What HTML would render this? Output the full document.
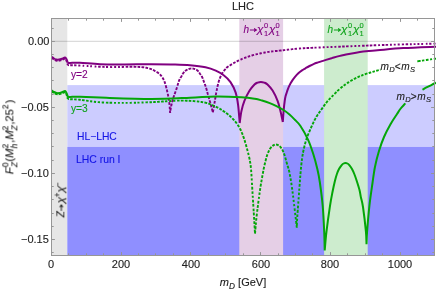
<!DOCTYPE html><html><head><meta charset="utf-8"><title>LHC</title><style>
html,body{margin:0;padding:0;background:#fff;}
body{width:436px;height:291px;position:relative;overflow:hidden;font-family:"Liberation Sans",sans-serif;color:#222;}
.t{will-change:transform;position:absolute;white-space:nowrap;line-height:1;font-size:11px;-webkit-text-stroke:0.12px currentColor;}
.xt{transform:translateX(-50%);top:259px;}
.yt{right:387.0px;transform:translateY(-50%);}
i{font-style:italic;}
.chi{display:inline-block;transform:scaleX(1.18);transform-origin:50% 50%;margin:0 0.45px 0 0.55px;}
.ss{display:inline-block;position:relative;width:0.5em;height:0;vertical-align:baseline;}
.ss sup,.ss sub{position:absolute;left:0;font-size:0.75em;line-height:1;font-style:normal;vertical-align:baseline}
.ss sup{bottom:0.42em}.ss sub{top:-0.38em}
</style></head><body>
<svg width="436" height="291" viewBox="0 0 436 291" style="position:absolute;left:0;top:0">
<rect x="0" y="0" width="436" height="291" fill="#fff"/>
<rect x="51.5" y="18.5" width="15.799999999999997" height="237.0" fill="#e6e6e6"/>
<rect x="67.3" y="85.1" width="367.5" height="61.80000000000001" fill="#ccccff"/>
<rect x="67.3" y="146.9" width="367.5" height="108.6" fill="#8f8fff"/>
<rect x="239.3" y="18.5" width="43.80000000000001" height="237.0" fill="#e5cfe6"/>
<rect x="324.1" y="18.5" width="43.599999999999966" height="237.0" fill="#cdecce"/>
<line x1="51.5" x2="434.5" y1="41.3" y2="41.3" stroke="#000" stroke-opacity="0.2" stroke-width="0.9"/>
<g fill="none" stroke-width="2.0" stroke-linejoin="round">
<path d="M51.50,57.60 L51.53,57.63 L51.65,57.72 L51.79,57.83 L51.95,57.96 L52.13,58.10 L52.32,58.26 L52.52,58.42 L52.74,58.59 L52.95,58.76 L53.17,58.92 L53.39,59.08 L53.60,59.23 L53.81,59.38 M54.81,59.98 L54.88,60.02 L55.06,60.12 L55.25,60.22 L55.44,60.31 L55.62,60.40 L55.81,60.48 L56.00,60.55 L56.19,60.61 L56.38,60.67 L56.56,60.71 L56.75,60.75 L56.93,60.78 L57.11,60.80 L57.29,60.82 L57.48,60.82 L57.54,60.83 M58.66,60.75 L58.73,60.74 L58.93,60.71 L59.14,60.68 L59.35,60.64 L59.57,60.60 L59.79,60.55 L60.02,60.50 L60.25,60.44 L60.48,60.38 L60.71,60.32 L60.94,60.25 L61.17,60.18 L61.40,60.10 M62.46,59.71 L62.54,59.67 L62.77,59.56 L63.01,59.43 L63.25,59.31 L63.49,59.18 L63.72,59.06 L63.95,58.94 L64.17,58.84 L64.37,58.75 L64.56,58.68 L64.74,58.63 L64.90,58.60 L65.04,58.60 L65.12,58.61 M65.88,59.39 L65.91,59.43 L65.98,59.56 L66.05,59.69 L66.12,59.83 L66.19,59.98 L66.26,60.14 L66.33,60.31 L66.40,60.49 L66.46,60.67 L66.53,60.87 L66.59,61.06 L66.66,61.26 L66.72,61.46 L66.79,61.66 L66.86,61.86 L66.92,62.07 L66.97,62.21 M67.33,63.39 L67.36,63.48 L67.43,63.74 L67.50,63.99 L67.57,64.23 L67.64,64.45 L67.70,64.65 L67.75,64.82 L67.79,64.96 L67.80,65.00 M67.80,65.00 L67.83,65.00 L67.92,65.02 L68.02,65.04 L68.13,65.06 L68.25,65.09 L68.39,65.11 L68.54,65.14 L68.70,65.17 L68.87,65.20 L69.06,65.22 M70.22,65.31 L70.27,65.30 L70.38,65.30 L70.44,65.28 L70.49,65.26 L70.55,65.24 L70.65,65.22 L70.82,65.20 L71.10,65.19 L71.50,65.18 L72.06,65.19 L72.81,65.21 M74.16,65.26 L74.57,65.28 L75.97,65.35 L76.51,65.38 M78.31,65.48 L78.97,65.52 L80.36,65.60 M82.61,65.74 L83.40,65.79 L84.21,65.84 M86.71,66.00 L87.57,66.06 L88.44,66.11 M90.19,66.22 L91.08,66.27 L91.97,66.32 M94.63,66.48 L95.52,66.53 L96.40,66.58 M98.13,66.67 L98.99,66.71 L100.66,66.79 M102.28,66.87 L103.07,66.90 L104.58,66.96 M106.00,67.00 L106.69,67.02 L108.06,67.04 M110.11,67.07 L110.79,67.07 L112.15,67.08 M114.16,67.07 L114.82,67.06 L116.13,67.05 M118.06,67.02 L118.69,67.01 L119.93,66.98 M121.74,66.94 L122.33,66.93 L124.05,66.89 M125.68,66.86 L126.21,66.84 L127.72,66.82 L128.20,66.81 M129.57,66.80 L130.00,66.80 L131.21,66.80 L132.30,66.80 M133.58,66.81 L133.87,66.81 L134.69,66.82 L135.44,66.83 L136.12,66.84 L136.34,66.85 M137.55,66.88 L137.73,66.89 L138.29,66.91 L138.85,66.94 L139.41,66.97 L140.00,67.00 L140.20,67.01 M141.46,67.10 L141.63,67.11 L142.11,67.15 L142.56,67.19 L143.00,67.24 L143.42,67.29 L143.83,67.34 L144.23,67.40 M145.44,67.60 L145.58,67.62 L146.00,67.70 L146.43,67.79 L146.87,67.88 L147.31,67.98 L147.75,68.08 L148.04,68.15 M149.33,68.50 L149.47,68.54 L149.88,68.66 L150.28,68.79 L150.66,68.91 L151.03,69.03 L151.39,69.16 L151.72,69.28 L151.92,69.36 M152.97,69.82 L153.05,69.86 L153.28,69.98 L153.51,70.11 L153.74,70.24 L153.98,70.38 L154.24,70.53 L154.50,70.70 L154.79,70.87 L155.11,71.07 L155.44,71.26 M156.55,71.89 L156.67,71.96 L157.07,72.19 L157.46,72.43 L157.86,72.68 L158.26,72.94 L158.65,73.22 L158.91,73.41 M159.89,74.28 L160.00,74.40 L160.34,74.76 L160.67,75.14 L161.00,75.53 L161.33,75.93 L161.65,76.34 M162.48,77.53 L162.58,77.69 L162.88,78.18 L163.17,78.70 L163.46,79.24 L163.74,79.80 L163.83,80.00 M164.36,81.24 L164.45,81.46 L164.70,82.16 L164.95,82.89 L165.19,83.64 L165.27,83.90 M165.66,85.22 L165.73,85.49 L165.95,86.31 L166.17,87.13 L166.38,87.96 L166.45,88.23 M166.78,89.58 L166.85,89.85 L167.04,90.64 L167.22,91.41 L167.40,92.18 M167.75,93.70 L167.80,93.95 L167.97,94.71 L168.12,95.46 L168.27,96.22 L168.32,96.48 M168.60,98.01 L168.65,98.27 L168.78,99.06 L168.90,99.85 L169.02,100.66 M169.21,102.06 L169.25,102.36 L169.35,103.30 L169.44,104.28 L169.50,104.95 M169.65,106.64 L169.67,106.98 L169.75,107.97 L169.82,108.93 L169.84,109.24 M169.94,110.69 L169.96,110.95 L170.01,111.68 L170.06,112.30 L170.10,112.80 M170.10,112.80 L170.11,112.73 L170.15,112.48 L170.19,112.17 L170.22,111.94 M170.42,110.55 L170.44,110.40 L170.51,109.94 L170.58,109.47 L170.65,109.01 L170.72,108.56 L170.79,108.14 L170.86,107.74 L170.88,107.62 M171.12,106.37 L171.13,106.28 L171.19,106.01 L171.25,105.75 L171.31,105.49 L171.37,105.22 L171.44,104.94 L171.51,104.65 L171.59,104.33 L171.67,104.00 L171.77,103.63 L171.80,103.50 M172.13,102.22 L172.17,102.07 L172.29,101.60 L172.42,101.12 L172.55,100.62 L172.69,100.12 L172.83,99.60 L172.92,99.26 M173.28,98.04 L173.33,97.87 L173.49,97.34 L173.66,96.83 L173.83,96.31 L174.00,95.80 L174.19,95.28 M174.63,94.07 L174.70,93.89 L174.90,93.36 L175.10,92.82 L175.30,92.27 L175.51,91.71 L175.65,91.33 M176.13,89.95 L176.20,89.75 L176.41,89.11 L176.62,88.44 L176.84,87.73 L176.99,87.25 M177.43,85.76 L177.51,85.51 L177.73,84.76 L177.95,84.02 L178.18,83.30 L178.25,83.07 M178.68,81.74 L178.75,81.54 L178.96,80.96 L179.17,80.43 L179.37,79.95 L179.58,79.49 L179.78,79.07 M180.39,77.98 L180.46,77.87 L180.65,77.55 L180.84,77.26 L181.02,76.97 L181.19,76.70 L181.35,76.43 L181.50,76.17 L181.65,75.92 L181.77,75.68 L181.87,75.47 L181.91,75.40 M182.43,74.33 L182.46,74.28 L182.55,74.13 L182.65,73.98 L182.76,73.81 L182.89,73.63 L183.02,73.44 L183.16,73.25 L183.31,73.05 L183.46,72.85 L183.62,72.65 L183.79,72.45 L183.96,72.25 L184.13,72.06 L184.25,71.93 M185.07,71.14 L185.13,71.09 L185.33,70.92 L185.54,70.76 L185.75,70.60 L185.96,70.44 L186.18,70.29 L186.40,70.14 L186.63,70.00 L186.86,69.86 L187.10,69.73 L187.34,69.60 L187.50,69.52 M188.53,69.11 L188.62,69.07 L188.90,68.99 L189.18,68.90 L189.47,68.82 L189.76,68.75 L190.05,68.69 L190.35,68.63 L190.64,68.59 L190.94,68.55 L191.23,68.52 L191.32,68.52 M192.47,68.53 L192.57,68.54 L192.86,68.58 L193.15,68.63 L193.44,68.68 L193.73,68.74 L194.02,68.81 L194.30,68.89 L194.57,68.97 L194.84,69.06 L195.10,69.15 L195.18,69.18 M196.22,69.64 L196.29,69.67 L196.48,69.79 L196.67,69.90 L196.86,70.03 L197.03,70.16 L197.21,70.29 L197.38,70.43 L197.55,70.58 L197.72,70.73 L197.89,70.89 L198.06,71.06 L198.22,71.23 L198.38,71.42 L198.49,71.55 M199.19,72.54 L199.24,72.61 L199.38,72.83 L199.53,73.05 L199.67,73.27 L199.81,73.48 L199.95,73.68 L200.09,73.88 L200.24,74.07 L200.37,74.24 L200.51,74.42 L200.65,74.59 L200.78,74.76 L200.92,74.93 M201.58,75.90 L201.62,75.98 L201.76,76.22 L201.89,76.47 L202.01,76.74 L202.13,77.01 L202.25,77.28 L202.37,77.57 L202.49,77.87 L202.61,78.18 L202.73,78.50 L202.81,78.72 M203.25,79.93 L203.30,80.06 L203.45,80.46 L203.61,80.89 L203.78,81.34 L203.96,81.81 L204.15,82.31 L204.27,82.65 M204.74,83.89 L204.80,84.07 L205.00,84.62 L205.20,85.16 L205.40,85.71 L205.59,86.26 L205.71,86.62 M206.11,87.84 L206.16,88.01 L206.31,88.51 L206.45,89.01 L206.59,89.50 L206.73,89.99 L206.86,90.48 L206.94,90.81 M207.25,91.99 L207.30,92.17 L207.44,92.70 L207.58,93.25 L207.74,93.81 L207.90,94.40 L208.01,94.81 M208.44,96.30 L208.51,96.52 L208.70,97.20 L208.90,97.89 L209.10,98.58 L209.24,99.05 M209.58,100.23 L209.64,100.47 L209.85,101.18 L210.05,101.89 L210.24,102.58 L210.37,103.04 M210.76,104.44 L210.83,104.69 L211.03,105.45 L211.24,106.23 L211.45,107.02 L211.52,107.28 M211.86,108.57 L211.93,108.82 L212.12,109.55 L212.30,110.24 L212.47,110.89 L212.63,111.46 M212.92,112.35 L212.95,112.19 L213.05,111.62 L213.16,110.95 L213.29,110.18 L213.43,109.34 M213.68,107.81 L213.74,107.49 L213.90,106.52 L214.07,105.53 L214.12,105.20 M214.40,103.58 L214.45,103.26 L214.61,102.34 L214.75,101.47 L214.85,100.93 M215.07,99.60 L215.11,99.34 L215.24,98.55 L215.37,97.78 L215.50,97.01 L215.54,96.75 M215.80,95.23 L215.84,94.97 L215.97,94.21 L216.11,93.45 L216.25,92.69 L216.30,92.44 M216.60,90.90 L216.65,90.64 L216.81,89.86 L216.98,89.06 L217.14,88.25 M217.43,86.89 L217.48,86.62 L217.66,85.81 L217.84,85.01 L218.02,84.22 L218.08,83.96 M218.40,82.69 L218.47,82.45 L218.66,81.73 L218.86,81.04 L219.07,80.38 L219.28,79.75 M219.73,78.55 L219.80,78.36 L220.03,77.79 L220.27,77.25 L220.51,76.72 L220.75,76.21 L220.91,75.87 M221.47,74.77 L221.55,74.62 L221.79,74.17 L222.02,73.74 L222.25,73.33 L222.48,72.93 L222.71,72.56 L222.94,72.22 M223.70,71.16 L223.78,71.07 L224.01,70.78 L224.24,70.50 L224.48,70.22 L224.71,69.95 L224.95,69.68 L225.20,69.40 L225.43,69.13 L225.57,68.97 M226.37,68.04 L226.43,67.97 L226.64,67.77 L226.87,67.55 L227.14,67.33 L227.45,67.08 L227.80,66.82 L228.22,66.52 L228.53,66.31 M229.64,65.58 L229.85,65.45 L230.51,65.03 L231.21,64.59 L231.95,64.14 M233.26,63.35 L233.53,63.19 L234.37,62.71 L235.22,62.23 L235.50,62.07 M236.66,61.45 L236.96,61.30 L237.83,60.86 L238.71,60.44 L239.00,60.30 M240.47,59.64 L240.77,59.51 L241.68,59.12 L242.60,58.74 M244.17,58.11 L244.49,57.99 L245.45,57.62 L246.44,57.27 M247.76,56.80 L248.10,56.69 L249.12,56.35 L250.15,56.03 M251.55,55.60 L251.90,55.50 L252.97,55.20 L254.07,54.90 M255.57,54.51 L255.95,54.42 L257.10,54.14 L257.88,53.96 M259.44,53.61 L259.83,53.53 L261.01,53.28 L261.80,53.12 M263.38,52.80 L263.78,52.73 L264.96,52.51 L265.74,52.37 M267.30,52.10 L267.69,52.04 L268.84,51.86 L269.60,51.74 M271.13,51.54 L271.51,51.49 L272.65,51.35 L273.41,51.26 M274.94,51.10 L275.32,51.06 L276.47,50.94 L277.63,50.83 M278.80,50.71 L279.20,50.67 L280.38,50.55 L281.58,50.43 M282.80,50.30 L283.21,50.25 L284.41,50.12 L285.20,50.03 M286.77,49.84 L287.17,49.79 L288.34,49.65 L289.14,49.56 M290.74,49.37 L291.15,49.32 L292.40,49.18 L293.26,49.09 M294.59,48.96 L295.04,48.91 L296.44,48.79 L296.93,48.74 M298.94,48.58 L299.46,48.54 L301.10,48.42 M302.83,48.31 L303.43,48.28 L305.26,48.17 M306.52,48.10 L307.16,48.06 L309.11,47.96 M310.44,47.90 L311.11,47.86 L313.14,47.77 M314.51,47.71 L315.19,47.67 L316.56,47.61 M318.62,47.52 L319.31,47.49 L320.67,47.43 M322.70,47.34 L323.37,47.32 L324.69,47.26 M326.65,47.17 L327.29,47.14 L328.59,47.09 M330.53,47.01 L331.17,46.98 L332.47,46.93 M334.40,46.85 L335.05,46.83 L336.34,46.78 M338.27,46.71 L338.92,46.68 L340.85,46.61 M342.14,46.56 L342.79,46.54 L344.72,46.47 M346.01,46.42 L346.65,46.40 L348.58,46.32 M350.51,46.25 L351.16,46.22 L352.44,46.17 M354.37,46.10 L355.02,46.07 L356.30,46.02 M358.23,45.95 L358.87,45.92 L360.16,45.87 M362.08,45.79 L362.72,45.76 L364.65,45.69 M365.93,45.64 L366.58,45.61 L368.50,45.54 M369.79,45.49 L370.43,45.46 L372.36,45.39 M373.64,45.34 L374.28,45.32 L376.21,45.25 M378.14,45.18 L378.78,45.16 L380.04,45.11 M381.92,45.05 L382.54,45.03 L384.40,44.97 M385.63,44.93 L386.25,44.91 L388.10,44.85 M389.96,44.79 L390.59,44.77 L391.85,44.73 M393.76,44.67 L394.40,44.65 L395.70,44.61 M397.70,44.56 L398.37,44.54 L399.74,44.50 M401.85,44.44 L402.57,44.42 L404.05,44.38 M405.62,44.34 L406.44,44.32 L408.14,44.27 M409.92,44.23 L410.83,44.20 L411.76,44.18 M413.63,44.13 L414.58,44.11 L415.54,44.09 M417.45,44.04 L418.41,44.02 L419.37,44.00 M421.26,43.95 L422.20,43.93 L423.13,43.91 M425.83,43.84 L426.70,43.82 L427.55,43.80 M429.18,43.76 L429.96,43.74 L431.44,43.71 M433.43,43.66 L434.02,43.65 L435.57,43.61" stroke="#800080" stroke-width="1.9"/>
<path d="M51.50,91.20 L51.53,91.22 L51.65,91.31 L51.79,91.42 L51.95,91.54 L52.13,91.68 L52.32,91.82 L52.52,91.98 L52.74,92.14 L52.95,92.30 L53.17,92.45 L53.39,92.61 L53.60,92.75 L53.81,92.88 L53.87,92.92 M54.88,93.48 L54.94,93.51 L55.13,93.60 L55.31,93.68 L55.50,93.77 L55.69,93.84 L55.88,93.91 L56.06,93.98 L56.25,94.03 L56.44,94.08 L56.62,94.13 L56.81,94.17 L56.99,94.20 L57.17,94.23 L57.36,94.25 L57.54,94.26 L57.60,94.27 M58.73,94.23 L58.80,94.23 L59.00,94.20 L59.21,94.17 L59.42,94.12 L59.64,94.07 L59.87,94.01 L60.09,93.94 L60.32,93.87 L60.55,93.80 L60.78,93.72 L61.01,93.64 L61.25,93.56 L61.47,93.48 M62.54,93.09 L62.62,93.06 L62.85,92.95 L63.09,92.85 L63.33,92.74 L63.57,92.63 L63.80,92.53 L64.02,92.44 L64.24,92.36 L64.44,92.29 L64.62,92.24 L64.80,92.21 L64.95,92.20 L65.08,92.21 L65.20,92.23 L65.24,92.24 M65.95,93.11 L65.98,93.16 L66.05,93.29 L66.12,93.45 L66.19,93.61 L66.26,93.79 L66.33,93.97 L66.40,94.17 L66.46,94.37 L66.53,94.58 L66.59,94.79 L66.66,95.01 L66.72,95.22 L66.79,95.44 L66.86,95.66 L66.92,95.87 L66.97,96.02 M67.30,97.15 L67.33,97.24 L67.41,97.51 L67.48,97.77 L67.55,98.02 L67.62,98.26 L67.68,98.47 L67.73,98.66 L67.78,98.81 L67.80,98.90 M67.80,98.90 L67.83,98.90 L67.90,98.92 L67.96,98.93 L68.01,98.95 L68.07,98.96 L68.15,98.98 L68.24,99.01 L68.36,99.03 L68.51,99.05 L68.70,99.08 L68.93,99.11 M70.15,99.21 L70.31,99.22 L70.81,99.25 L71.34,99.27 L71.91,99.29 L72.53,99.31 L72.74,99.32 M74.13,99.37 L74.39,99.38 L75.17,99.42 L76.02,99.47 L76.61,99.51 M78.22,99.63 L78.56,99.66 L79.63,99.76 L80.77,99.88 M81.99,100.03 L82.41,100.09 L83.73,100.27 L84.64,100.40 M86.06,100.61 L86.55,100.68 L88.04,100.90 L88.55,100.98 M90.10,101.20 L90.63,101.27 L92.23,101.49 M93.86,101.70 L94.41,101.76 L96.08,101.95 M97.75,102.12 L98.31,102.17 L100.00,102.30 M101.71,102.41 L102.29,102.44 L104.06,102.53 M105.88,102.61 L106.49,102.64 L108.34,102.70 M109.59,102.74 L110.22,102.76 L112.12,102.80 M114.05,102.84 L114.69,102.84 L115.98,102.86 M117.92,102.88 L118.56,102.89 L119.86,102.89 M121.79,102.90 L122.44,102.90 L123.72,102.90 M125.64,102.90 L126.29,102.89 L127.62,102.88 M129.67,102.85 L130.36,102.84 L131.76,102.82 M133.88,102.77 L134.58,102.75 L136.00,102.71 M137.41,102.67 L138.11,102.65 L139.51,102.61 M141.56,102.54 L142.23,102.52 L143.55,102.47 M145.46,102.41 L146.08,102.38 L147.85,102.32 M149.50,102.26 L150.01,102.24 L151.46,102.18 L151.91,102.17 M153.14,102.11 L153.51,102.10 L154.55,102.05 L155.47,102.00 L155.76,101.98 M157.07,101.90 L157.32,101.88 L158.04,101.83 L158.75,101.78 L159.47,101.72 L159.72,101.71 M161.06,101.62 L161.36,101.60 L162.30,101.54 L163.37,101.48 L163.74,101.46 M164.90,101.39 L165.30,101.36 L166.53,101.28 L167.37,101.23 M169.10,101.11 L169.54,101.08 L170.87,101.00 L171.31,100.97 M173.10,100.86 L173.55,100.84 L174.89,100.77 L175.33,100.74 M177.08,100.67 L177.51,100.66 L178.78,100.62 L179.60,100.60 M180.80,100.60 L181.20,100.59 L182.41,100.60 L183.61,100.62 M184.80,100.64 L185.20,100.66 L186.38,100.69 L187.55,100.74 M188.70,100.79 L189.08,100.81 L190.20,100.87 L191.29,100.94 M192.70,101.03 L193.04,101.05 L194.04,101.13 L195.00,101.20 L195.31,101.23 M196.81,101.36 L197.10,101.39 L197.95,101.48 L198.78,101.58 L199.31,101.65 M200.59,101.83 L200.83,101.86 L201.56,101.97 L202.25,102.09 L202.93,102.20 L203.15,102.24 M204.40,102.48 L204.61,102.52 L205.19,102.64 L205.73,102.76 L206.21,102.87 L206.66,102.98 L207.07,103.09 L207.20,103.13 M208.29,103.49 L208.41,103.53 L208.77,103.67 L209.15,103.81 L209.54,103.97 L209.97,104.15 L210.44,104.33 L210.94,104.54 M212.02,104.98 L212.21,105.06 L212.78,105.31 L213.37,105.56 L213.97,105.83 L214.58,106.10 M215.80,106.67 L216.01,106.77 L216.62,107.07 L217.22,107.37 L217.82,107.68 L218.21,107.89 M219.38,108.56 L219.59,108.68 L220.19,109.05 L220.81,109.43 L221.42,109.82 L221.63,109.95 M222.64,110.61 L222.84,110.74 L223.42,111.13 L223.99,111.51 L224.54,111.89 L225.06,112.24 M226.00,112.90 L226.14,113.00 L226.55,113.29 L226.92,113.55 L227.26,113.81 L227.57,114.04 L227.87,114.27 L228.15,114.50 L228.33,114.64 M229.27,115.45 L229.36,115.53 L229.62,115.76 L229.90,116.01 L230.19,116.28 L230.49,116.54 L230.77,116.81 L231.06,117.08 L231.35,117.35 M232.30,118.29 L232.39,118.39 L232.67,118.68 L232.96,118.98 L233.24,119.28 L233.52,119.59 L233.80,119.90 L234.08,120.21 L234.27,120.42 M235.01,121.27 L235.11,121.38 L235.38,121.71 L235.66,122.04 L235.94,122.38 L236.22,122.73 L236.49,123.08 L236.77,123.45 L236.86,123.58 M237.59,124.64 L237.68,124.78 L237.96,125.21 L238.24,125.65 L238.52,126.10 L238.80,126.56 L239.07,127.03 M239.81,128.33 L239.90,128.50 L240.16,129.00 L240.43,129.51 L240.68,130.03 L240.94,130.55 L241.10,130.90 M241.66,132.15 L241.73,132.34 L241.96,132.90 L242.19,133.46 L242.41,134.03 L242.62,134.61 L242.70,134.80 M243.12,135.97 L243.19,136.16 L243.40,136.75 L243.60,137.33 L243.80,137.92 L244.00,138.50 L244.13,138.88 M244.56,140.16 L244.62,140.34 L244.79,140.87 L244.96,141.40 L245.13,141.94 L245.29,142.49 L245.41,142.87 M245.82,144.28 L245.88,144.50 L246.07,145.17 L246.26,145.89 L246.47,146.66 L246.54,146.93 M246.93,148.39 L247.02,148.70 L247.27,149.65 L247.53,150.63 L247.62,150.97 M248.06,152.67 L248.14,153.02 L248.40,154.06 L248.66,155.09 M249.06,156.78 L249.13,157.11 L249.35,158.08 L249.54,159.00 L249.66,159.59 M249.92,160.93 L249.97,161.18 L250.10,161.89 L250.22,162.58 L250.33,163.25 L250.40,163.70 M250.60,165.10 L250.63,165.34 L250.72,166.12 L250.81,166.95 L250.90,167.87 M251.07,169.61 L251.10,170.00 L251.20,171.22 L251.27,172.08 M251.40,173.90 L251.43,174.38 L251.53,175.84 L251.56,176.34 M251.68,178.40 L251.71,178.93 L251.81,180.54 M251.93,182.76 L251.96,183.32 L252.06,185.02 M252.16,186.74 L252.19,187.32 L252.29,189.06 L252.33,189.64 M252.44,191.39 L252.47,191.98 L252.59,193.84 M252.71,195.76 L252.75,196.42 L252.83,197.74 M252.96,199.77 L253.00,200.45 L253.13,202.50 M253.22,203.87 L253.26,204.55 L253.39,206.59 M253.51,208.59 L253.55,209.25 L253.67,211.19 M253.75,212.44 L253.79,213.05 L253.90,214.83 L253.93,215.40 M254.03,217.04 L254.06,217.58 L254.16,219.18 L254.19,219.72 M254.29,221.30 L254.32,221.82 L254.41,223.36 L254.43,223.86 M254.52,225.34 L254.55,225.82 L254.63,227.21 L254.68,228.10 M254.77,229.76 L254.79,230.15 L254.85,231.24 L254.91,232.22 L254.93,232.52 M255.02,233.58 L255.04,233.34 L255.11,232.52 L255.19,231.58 L255.25,230.89 M255.37,229.36 L255.41,228.95 L255.52,227.66 L255.63,226.29 M255.76,224.86 L255.81,224.36 L255.94,222.85 L255.99,222.34 M256.15,220.77 L256.20,220.25 L256.36,218.65 L256.42,218.11 M256.60,216.50 L256.66,215.95 L256.86,214.23 L256.93,213.63 M257.16,211.77 L257.23,211.13 L257.47,209.16 M257.64,207.81 L257.73,207.13 L257.99,205.06 M258.16,203.68 L258.25,202.98 L258.52,200.91 M258.79,198.86 L258.88,198.19 L259.06,196.86 M259.32,194.93 L259.40,194.30 L259.66,192.49 M259.90,190.80 L259.98,190.26 L260.22,188.67 L260.30,188.15 M260.54,186.62 L260.61,186.12 L260.85,184.65 L261.01,183.69 M261.25,182.29 L261.33,181.84 L261.56,180.50 L261.71,179.64 M262.01,177.97 L262.08,177.56 L262.30,176.38 L262.51,175.24 M262.77,173.79 L262.84,173.44 L263.02,172.44 L263.19,171.51 L263.30,170.94 M263.55,169.62 L263.60,169.38 L263.74,168.68 L263.87,168.01 L264.01,167.37 L264.14,166.74 M264.47,165.29 L264.52,165.08 L264.68,164.42 L264.84,163.74 L265.02,163.02 L265.14,162.53 M265.44,161.28 L265.51,161.03 L265.70,160.27 L265.89,159.52 L266.09,158.76 L266.22,158.26 M266.57,157.04 L266.64,156.80 L266.85,156.09 L267.07,155.40 L267.29,154.74 L267.45,154.31 M267.99,152.91 L268.07,152.71 L268.31,152.14 L268.55,151.58 L268.80,151.04 L269.05,150.51 L269.13,150.34 M269.75,149.21 L269.84,149.06 L270.11,148.61 L270.40,148.19 L270.69,147.79 L271.00,147.42 L271.31,147.07 L271.53,146.84 M272.44,146.00 L272.56,145.91 L272.93,145.64 L273.29,145.39 L273.67,145.17 L274.04,144.97 L274.42,144.81 L274.79,144.68 M276.02,144.50 L276.14,144.51 L276.51,144.56 L276.88,144.64 L277.26,144.76 L277.64,144.91 L278.01,145.10 L278.39,145.31 L278.64,145.47 M279.60,146.20 L279.71,146.30 L280.06,146.62 L280.38,146.95 L280.70,147.30 L281.00,147.67 L281.29,148.06 L281.48,148.33 M282.19,149.52 L282.27,149.68 L282.53,150.18 L282.77,150.69 L283.01,151.22 L283.25,151.76 L283.40,152.14 M283.87,153.30 L283.95,153.50 L284.18,154.10 L284.40,154.74 L284.63,155.40 L284.84,156.09 M285.27,157.52 L285.34,157.77 L285.54,158.51 L285.75,159.26 L285.95,160.02 L286.02,160.27 M286.36,161.53 L286.42,161.78 L286.63,162.53 L286.83,163.26 L287.04,163.97 L287.17,164.42 M287.58,165.71 L287.65,165.92 L287.85,166.54 L288.05,167.16 L288.25,167.79 L288.45,168.45 M288.85,169.87 L288.92,170.13 L289.12,170.94 L289.33,171.81 L289.46,172.44 M289.81,174.15 L289.87,174.51 L290.08,175.61 L290.29,176.77 M290.56,178.38 L290.63,178.79 L290.84,180.07 L290.98,180.94 M291.25,182.76 L291.32,183.22 L291.53,184.65 L291.61,185.13 M291.89,187.12 L291.96,187.63 L292.18,189.19 L292.25,189.72 M292.47,191.35 L292.55,191.92 L292.79,193.73 M293.03,195.66 L293.11,196.33 L293.28,197.69 M293.53,199.78 L293.62,200.49 L293.79,201.92 M294.04,204.06 L294.13,204.77 L294.29,206.19 M294.54,208.27 L294.62,208.94 L294.84,210.91 M295.06,212.77 L295.13,213.36 L295.32,215.02 M295.55,216.95 L295.61,217.40 L295.76,218.66 L295.85,219.45 M296.02,220.91 L296.06,221.25 L296.18,222.22 L296.28,223.11 L296.37,223.92 M296.54,225.33 L296.56,225.55 L296.63,226.14 L296.69,226.68 L296.75,227.16 L296.80,227.60 M296.80,227.60 L296.81,227.46 L296.82,227.01 M296.86,225.75 L296.87,225.55 L296.89,224.89 L296.91,224.17 L296.94,223.39 L296.96,222.82 M297.03,221.25 L297.05,220.91 L297.10,219.83 L297.17,218.66 M297.27,216.95 L297.30,216.50 L297.40,215.03 L297.43,214.50 M297.55,212.81 L297.60,212.22 L297.73,210.35 L297.78,209.71 M297.87,208.39 L297.92,207.72 L298.08,205.66 M298.23,203.55 L298.29,202.84 L298.39,201.43 M298.55,199.31 L298.61,198.61 L298.71,197.22 M298.87,195.19 L298.92,194.53 L299.06,192.61 M299.20,190.80 L299.24,190.22 L299.37,188.49 M299.50,186.77 L299.54,186.20 L299.66,184.51 L299.71,183.95 M299.83,182.30 L299.87,181.75 L299.99,180.14 L300.03,179.61 M300.14,178.04 L300.18,177.52 L300.30,176.01 L300.34,175.51 M300.45,174.06 L300.49,173.58 L300.61,172.19 L300.68,171.30 M300.84,169.58 L300.88,169.17 L300.99,167.98 L301.10,166.84 M301.25,165.41 L301.28,165.07 L301.39,164.07 L301.50,163.10 L301.57,162.48 M301.76,160.97 L301.79,160.68 L301.91,159.81 L302.02,158.96 L302.10,158.40 M302.34,156.72 L302.38,156.45 L302.51,155.65 L302.63,154.88 L302.76,154.13 L302.80,153.89 M303.01,152.71 L303.06,152.48 L303.19,151.80 L303.32,151.13 L303.46,150.47 L303.60,149.81 M303.89,148.49 L303.94,148.27 L304.10,147.60 L304.26,146.92 L304.43,146.25 L304.60,145.58 M304.95,144.24 L305.01,144.02 L305.19,143.36 L305.37,142.70 L305.56,142.06 L305.75,141.42 M306.12,140.18 L306.19,139.98 L306.37,139.39 L306.56,138.81 L306.75,138.25 L306.94,137.70 L307.07,137.34 M307.52,136.13 L307.58,135.96 L307.78,135.46 L307.97,134.97 L308.17,134.48 L308.37,133.99 L308.56,133.51 L308.63,133.34 M309.10,132.20 L309.17,132.03 L309.37,131.54 L309.58,131.04 L309.79,130.55 L310.00,130.06 L310.22,129.57 L310.29,129.41 M310.78,128.28 L310.86,128.12 L311.07,127.64 L311.28,127.17 L311.49,126.71 L311.70,126.25 L311.90,125.80 L311.97,125.65 M312.56,124.35 L312.63,124.20 L312.82,123.78 L313.01,123.36 L313.21,122.95 L313.40,122.54 L313.59,122.14 L313.78,121.74 M314.37,120.56 L314.43,120.43 L314.63,120.05 L314.82,119.67 L315.01,119.31 L315.19,118.96 L315.38,118.62 L315.56,118.27 L315.75,117.93 M316.35,116.89 L316.42,116.77 L316.64,116.40 L316.87,116.03 L317.11,115.63 L317.38,115.23 L317.65,114.81 L317.94,114.38 M318.65,113.36 L318.75,113.21 L319.07,112.75 L319.40,112.29 L319.73,111.83 L320.06,111.37 L320.29,111.06 M321.07,109.97 L321.18,109.81 L321.51,109.34 L321.85,108.87 L322.19,108.38 L322.54,107.88 L322.77,107.55 M323.48,106.54 L323.59,106.37 L323.95,105.87 L324.30,105.38 L324.65,104.89 L325.00,104.42 L325.23,104.11 M326.00,103.10 L326.11,102.97 L326.40,102.60 L326.66,102.27 L326.89,101.98 L327.12,101.70 L327.34,101.44 L327.57,101.18 L327.80,100.91 M328.69,99.96 L328.81,99.83 L329.20,99.42 L329.66,98.95 L330.18,98.41 L330.57,98.01 M331.66,96.88 L331.89,96.64 L332.63,95.87 L333.40,95.07 M334.48,93.96 L334.76,93.68 L335.60,92.83 L336.44,91.99 M337.29,91.16 L337.58,90.89 L338.42,90.09 L339.24,89.33 M340.56,88.18 L340.81,87.96 L341.59,87.33 L342.36,86.71 L342.62,86.50 M343.65,85.71 L343.91,85.52 L344.68,84.94 L345.45,84.39 L345.71,84.21 M347.00,83.32 L347.25,83.14 L348.03,82.63 L348.80,82.13 L349.06,81.96 M350.34,81.16 L350.60,81.00 L351.37,80.53 L352.14,80.08 L352.66,79.79 M353.95,79.09 L354.21,78.95 L354.98,78.55 L355.75,78.16 L356.26,77.90 M357.55,77.29 L357.81,77.17 L358.58,76.81 L359.36,76.47 L359.87,76.24 M361.16,75.69 L361.42,75.59 L362.20,75.28 L362.98,74.98 L363.50,74.78 M364.81,74.32 L365.07,74.23 L365.86,73.97 L366.64,73.72 L367.42,73.47 M368.70,73.07 L368.96,72.99 L369.71,72.76 L370.46,72.53 L371.20,72.30 M372.47,71.91 L372.73,71.84 L373.52,71.60 L374.33,71.37 L374.87,71.22 M376.19,70.85 L376.44,70.78 L377.19,70.58 L377.90,70.38 L378.57,70.20 L378.77,70.15 M380.01,69.81 L380.15,69.77 L380.40,69.70 M417.50,61.30 L417.51,61.30 L417.51,61.30 L417.45,61.31 L417.36,61.32 L417.33,61.32 M417.87,61.24 L418.02,61.21 L418.58,61.13 L419.32,61.02 L420.31,60.88 L420.68,60.83 M421.93,60.64 L422.39,60.58 L423.83,60.37 L424.33,60.30 M425.89,60.07 L426.42,59.99 L428.01,59.76 L428.55,59.68 M430.11,59.46 L430.62,59.38 L432.08,59.17 M433.81,58.92 L434.20,58.86 L435.22,58.71 L436.00,58.60" stroke="#04a608" stroke-width="1.9"/>
<path d="M51.50,56.70 C51.92,57.00 53.17,58.02 54.00,58.50 C54.83,58.98 55.67,59.42 56.50,59.60 C57.33,59.78 58.08,59.73 59.00,59.60 C59.92,59.47 61.02,59.15 62.00,58.80 C62.98,58.45 64.23,57.57 64.90,57.50 C65.57,57.43 65.67,57.95 66.00,58.40 C66.33,58.85 66.60,59.48 66.90,60.20 C67.20,60.92 67.65,62.28 67.80,62.70 M67.80,62.70 C68.17,62.73 67.97,62.88 70.00,62.90 C72.03,62.92 75.00,62.58 80.00,62.80 C85.00,63.02 92.50,63.93 100.00,64.20 C107.50,64.47 116.42,64.38 125.00,64.40 C133.58,64.42 143.17,64.28 151.50,64.30 C159.83,64.32 168.58,64.35 175.00,64.50 C181.42,64.65 184.92,64.73 190.00,65.20 C195.08,65.67 201.20,66.38 205.50,67.30 C209.80,68.22 212.72,69.33 215.80,70.70 C218.88,72.07 221.55,73.60 224.00,75.50 C226.45,77.40 228.57,79.28 230.50,82.10 C232.43,84.92 234.33,88.58 235.60,92.40 C236.87,96.22 237.42,99.90 238.10,105.00 C238.78,110.10 239.43,120.00 239.70,123.00 M239.70,123.00 C239.98,121.03 240.62,114.88 241.40,111.20 C242.18,107.52 243.03,104.33 244.40,100.90 C245.77,97.47 247.92,93.33 249.60,90.60 C251.28,87.87 253.17,85.83 254.50,84.50 C255.83,83.17 256.53,83.03 257.60,82.60 C258.67,82.17 259.80,81.90 260.90,81.90 C262.00,81.90 263.10,82.17 264.20,82.60 C265.30,83.03 266.10,83.17 267.50,84.50 C268.90,85.83 270.92,87.87 272.60,90.60 C274.28,93.33 276.28,97.47 277.60,100.90 C278.92,104.33 279.63,107.68 280.50,111.20 C281.37,114.72 282.42,120.20 282.80,122.00 M282.80,122.00 C282.95,119.98 283.37,113.53 283.70,109.90 C284.03,106.28 284.48,102.57 284.80,100.25 C285.12,97.93 285.25,97.38 285.60,96.00 C285.95,94.62 286.55,93.07 286.90,92.00 C287.25,90.93 287.27,90.70 287.70,89.60 C288.13,88.50 288.82,86.77 289.50,85.40 C290.18,84.03 290.87,82.77 291.75,81.40 C292.63,80.03 293.66,78.58 294.80,77.20 C295.94,75.82 297.40,74.23 298.60,73.10 C299.80,71.97 300.85,71.20 302.00,70.40 C303.15,69.60 304.25,69.03 305.50,68.30 C306.75,67.57 308.08,66.75 309.50,66.00 C310.92,65.25 312.58,64.40 314.00,63.80 C315.42,63.20 316.67,62.85 318.00,62.40 C319.33,61.95 320.67,61.52 322.00,61.10 C323.33,60.68 324.33,60.40 326.00,59.90 C327.67,59.40 329.85,58.73 332.00,58.10 C334.15,57.47 336.73,56.67 338.90,56.10 C341.07,55.53 342.85,55.15 345.00,54.70 C347.15,54.25 348.30,53.97 351.80,53.40 C355.30,52.83 361.72,51.82 366.00,51.30 C370.28,50.78 371.28,50.83 377.50,50.30 C383.72,49.77 393.55,48.70 403.30,48.10 C413.05,47.50 430.55,46.93 436.00,46.70" stroke="#800080"/>
<path d="M51.50,90.30 C51.92,90.58 53.17,91.55 54.00,92.00 C54.83,92.45 55.67,92.82 56.50,93.00 C57.33,93.18 58.08,93.23 59.00,93.10 C59.92,92.97 61.02,92.53 62.00,92.20 C62.98,91.87 64.23,91.13 64.90,91.10 C65.57,91.07 65.67,91.52 66.00,92.00 C66.33,92.48 66.60,93.22 66.90,94.00 C67.20,94.78 67.65,96.25 67.80,96.70 M67.80,96.70 C68.17,96.73 67.97,96.88 70.00,96.90 C72.03,96.92 75.00,96.68 80.00,96.80 C85.00,96.92 88.17,97.25 100.00,97.60 C111.83,97.95 136.00,98.88 151.00,98.90 C166.00,98.92 179.20,98.12 190.00,97.70 C200.80,97.28 207.22,96.48 215.80,96.40 C224.38,96.32 235.00,96.82 241.50,97.20 C248.00,97.58 251.38,98.15 254.80,98.70 C258.22,99.25 259.51,99.77 262.00,100.50 C264.49,101.23 267.42,102.20 269.75,103.10 C272.08,104.00 273.71,104.75 276.00,105.90 C278.29,107.05 281.25,108.57 283.50,110.00 C285.75,111.43 287.67,112.93 289.50,114.50 C291.33,116.07 292.70,117.52 294.50,119.40 C296.30,121.28 298.05,122.43 300.30,125.80 C302.55,129.17 305.85,134.93 308.00,139.60 C310.15,144.27 311.63,148.85 313.20,153.80 C314.77,158.75 316.30,164.60 317.40,169.30 C318.50,174.00 318.92,175.92 319.80,182.00 C320.68,188.08 321.97,197.55 322.70,205.80 C323.43,214.05 323.87,224.07 324.20,231.50 C324.53,238.93 324.62,247.25 324.70,250.40 M324.70,250.40 C325.00,247.25 325.62,238.93 326.50,231.50 C327.38,224.07 329.00,212.38 330.00,205.80 C331.00,199.22 331.68,196.13 332.50,192.00 C333.32,187.87 334.17,184.00 334.90,181.00 C335.63,178.00 336.22,176.00 336.90,174.00 C337.58,172.00 338.20,170.48 339.00,169.00 C339.80,167.52 340.93,166.02 341.70,165.10 C342.47,164.18 342.97,163.85 343.60,163.50 C344.23,163.15 344.87,163.00 345.50,163.00 C346.13,163.00 346.77,163.15 347.40,163.50 C348.03,163.85 348.53,164.18 349.30,165.10 C350.07,166.02 351.17,167.52 352.00,169.00 C352.83,170.48 353.53,172.08 354.30,174.00 C355.07,175.92 355.73,177.83 356.60,180.50 C357.47,183.17 358.80,187.27 359.50,190.00 C360.20,192.73 360.22,194.07 360.80,196.90 C361.38,199.73 362.15,201.23 363.00,207.00 C363.85,212.77 365.32,225.30 365.90,231.50 C366.48,237.70 366.40,242.08 366.50,244.20 M366.50,244.20 C366.60,242.08 366.62,237.90 367.10,231.50 C367.58,225.10 368.50,213.88 369.40,205.80 C370.30,197.72 371.57,189.52 372.50,183.00 C373.43,176.48 373.93,172.00 375.00,166.70 C376.07,161.40 377.40,156.15 378.90,151.20 C380.40,146.25 382.07,141.50 384.00,137.00 C385.93,132.50 388.33,128.03 390.50,124.20 C392.67,120.37 395.30,116.62 397.00,114.00 C398.70,111.38 399.43,110.13 400.70,108.50 C401.97,106.87 403.82,105.07 404.60,104.20 C405.38,103.33 405.27,103.45 405.40,103.30 M422.40,89.70 C423.17,89.28 425.45,88.00 427.00,87.20 C428.55,86.40 430.20,85.65 431.70,84.90 C433.20,84.15 435.28,83.07 436.00,82.70" stroke="#04a608"/>
</g>
<rect x="51.5" y="18.5" width="383.0" height="237.0" fill="none" stroke="#969696" stroke-width="1"/>
<path d="M51.50,255.5v-3.4M51.50,18.5v3.4 M68.50,255.5v-2.2M68.50,18.5v2.2 M86.50,255.5v-2.2M86.50,18.5v2.2 M103.50,255.5v-2.2M103.50,18.5v2.2 M121.50,255.5v-3.4M121.50,18.5v3.4 M138.50,255.5v-2.2M138.50,18.5v2.2 M155.50,255.5v-2.2M155.50,18.5v2.2 M173.50,255.5v-2.2M173.50,18.5v2.2 M190.50,255.5v-3.4M190.50,18.5v3.4 M208.50,255.5v-2.2M208.50,18.5v2.2 M225.50,255.5v-2.2M225.50,18.5v2.2 M243.50,255.5v-2.2M243.50,18.5v2.2 M260.50,255.5v-3.4M260.50,18.5v3.4 M278.50,255.5v-2.2M278.50,18.5v2.2 M295.50,255.5v-2.2M295.50,18.5v2.2 M312.50,255.5v-2.2M312.50,18.5v2.2 M330.50,255.5v-3.4M330.50,18.5v3.4 M347.50,255.5v-2.2M347.50,18.5v2.2 M365.50,255.5v-2.2M365.50,18.5v2.2 M382.50,255.5v-2.2M382.50,18.5v2.2 M400.50,255.5v-3.4M400.50,18.5v3.4 M417.50,255.5v-2.2M417.50,18.5v2.2 M434.50,255.5v-2.2M434.50,18.5v2.2 M51.5,252.50h2.2M434.5,252.50h-2.2 M51.5,239.50h3.4M434.5,239.50h-3.4 M51.5,226.50h2.2M434.5,226.50h-2.2 M51.5,213.50h2.2M434.5,213.50h-2.2 M51.5,199.50h2.2M434.5,199.50h-2.2 M51.5,186.50h2.2M434.5,186.50h-2.2 M51.5,173.50h3.4M434.5,173.50h-3.4 M51.5,160.50h2.2M434.5,160.50h-2.2 M51.5,146.50h2.2M434.5,146.50h-2.2 M51.5,133.50h2.2M434.5,133.50h-2.2 M51.5,120.50h2.2M434.5,120.50h-2.2 M51.5,107.50h3.4M434.5,107.50h-3.4 M51.5,94.50h2.2M434.5,94.50h-2.2 M51.5,80.50h2.2M434.5,80.50h-2.2 M51.5,67.50h2.2M434.5,67.50h-2.2 M51.5,54.50h2.2M434.5,54.50h-2.2 M51.5,41.50h3.4M434.5,41.50h-3.4 M51.5,28.50h2.2M434.5,28.50h-2.2" stroke="#969696" stroke-width="1" fill="none"/>
</svg>
<div class="t" style="left:243.2px;top:0.8px;transform:translateX(-50%)">LHC</div>
<div class="t xt" style="left:51.3px">0</div>
<div class="t xt" style="left:121.1px">200</div>
<div class="t xt" style="left:190.8px">400</div>
<div class="t xt" style="left:260.6px">600</div>
<div class="t xt" style="left:330.3px">800</div>
<div class="t xt" style="left:400.1px">1000</div>
<div class="t yt" style="top:41.0px">0.00</div>
<div class="t yt" style="top:107.0px">−0.05</div>
<div class="t yt" style="top:173.1px">−0.10</div>
<div class="t yt" style="top:239.1px">−0.15</div>
<div class="t" style="left:243px;top:277px;transform:translateX(-50%)"><i>m</i><span class="ss" style="width:.55em"><sub><i>D</i></sub></span> [GeV]</div>
<div class="t" style="left:9.6px;top:136.9px;font-size:11.25px;transform:translate(-50%,-50%) rotate(-90deg);"><i>F</i><span class="ss"><sup>0</sup><sub><i>Z</i></sub></span>(<i>M</i><span class="ss"><sup>2</sup><sub><i>h</i></sub></span>,<i>M</i><span class="ss"><sup>2</sup><sub><i>Z</i></sub></span>,25<span class="ss"><sup>2</sup></span>)</div>
<div class="t" style="left:70.8px;top:69.8px;font-size:10.2px;color:#800080">y=2</div>
<div class="t" style="left:70.8px;top:103.8px;font-size:10.2px;color:#0ea21a">y=3</div>
<div class="t" style="left:77px;top:131.8px;font-size:10.3px;color:#1414e6">HL−LHC</div>
<div class="t" style="left:75.8px;top:155.1px;font-size:10.4px;color:#1414e6">LHC run I</div>
<div class="t" style="left:261.7px;top:29.5px;transform:translate(-50%,-50%);font-size:10px;color:#800080"><i>h</i><svg width="8" height="6" viewBox="0 0 8 6" style="display:inline-block;vertical-align:-0.02em;margin:0 0.2px"><path d="M0.2,3H6" stroke="currentColor" stroke-width="1" fill="none"/><path d="M7.9,3 L4.3,0.7 Q5.4,3 4.3,5.3Z" fill="currentColor"/></svg><i class="chi">χ</i><span class="ss"><sup>0</sup><sub>1</sub></span><i class="chi">χ</i><span class="ss"><sup>0</sup><sub>1</sub></span></div>
<div class="t" style="left:346px;top:29.5px;transform:translate(-50%,-50%);font-size:10px;color:#0ea21a"><i>h</i><svg width="8" height="6" viewBox="0 0 8 6" style="display:inline-block;vertical-align:-0.02em;margin:0 0.2px"><path d="M0.2,3H6" stroke="currentColor" stroke-width="1" fill="none"/><path d="M7.9,3 L4.3,0.7 Q5.4,3 4.3,5.3Z" fill="currentColor"/></svg><i class="chi">χ</i><span class="ss"><sup>0</sup><sub>1</sub></span><i class="chi">χ</i><span class="ss"><sup>0</sup><sub>1</sub></span></div>
<div class="t" style="left:398.2px;top:67px;transform:translate(-50%,-50%);font-size:10.1px;letter-spacing:0.4px"><i>m</i><span class="ss" style="width:.56em"><sub style="top:-0.5em"><i>D</i></sub></span>&lt;<i>m</i><span class="ss" style="width:.56em"><sub style="top:-0.5em"><i>S</i></sub></span></div>
<div class="t" style="left:413.6px;top:97.2px;transform:translate(-50%,-50%);font-size:10.1px;letter-spacing:0.4px"><i>m</i><span class="ss" style="width:.56em"><sub style="top:-0.5em"><i>D</i></sub></span>&gt;<i>m</i><span class="ss" style="width:.56em"><sub style="top:-0.5em"><i>S</i></sub></span></div>
<div class="t" style="left:60.8px;top:200.3px;transform:translate(-50%,-50%) rotate(-90deg) scaleX(0.9);font-size:11.3px;"><i>Z</i><svg width="8" height="6" viewBox="0 0 8 6" style="display:inline-block;vertical-align:-0.02em;margin:0 0.2px"><path d="M0.2,3H6" stroke="currentColor" stroke-width="1" fill="none"/><path d="M7.9,3 L4.3,0.7 Q5.4,3 4.3,5.3Z" fill="currentColor"/></svg><i class="chi">χ</i><span class="ss" style="width:.4em"><sup style="bottom:0.3em">+</sup></span><i class="chi">χ</i><span class="ss" style="width:.4em"><sup style="bottom:0.3em">−</sup></span></div>
</body></html>
